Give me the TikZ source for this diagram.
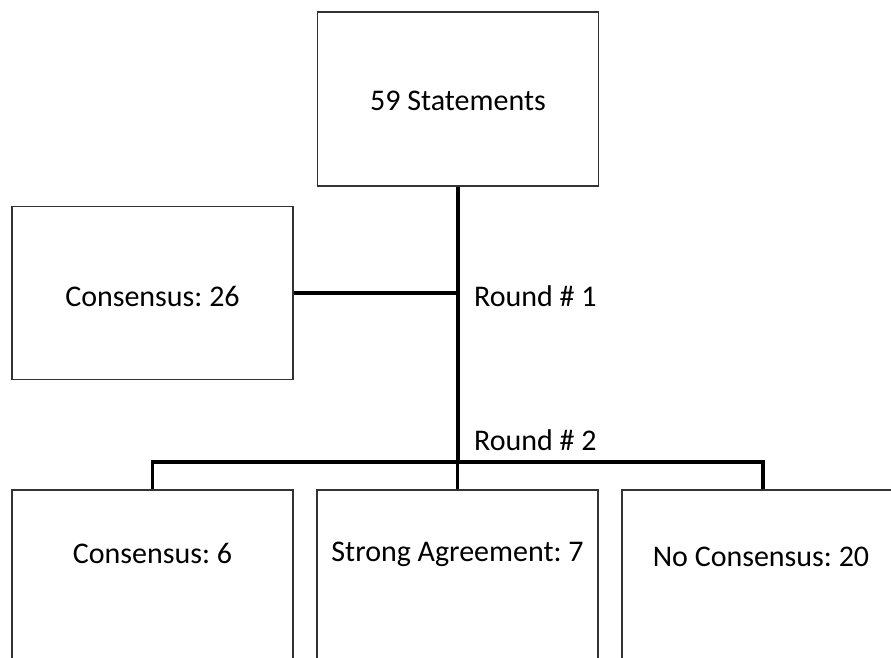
\documentclass[tikz,border=0pt]{standalone}
\usepackage{fontspec}
\setmainfont{Carlito}
\frenchspacing
\begin{document}
\begin{tikzpicture}[x=1pt,y=-1pt,
  box/.style={draw=black!80,line width=1.3pt,rectangle,inner sep=0pt,fill=white},
  conn/.style={draw=black,line width=3.2pt},
  lbl/.style={font=\fontsize{30}{36}\selectfont,inner sep=0pt}]
\clip (0,0) rectangle (891,658);
\fill[white] (0,0) rectangle (891,658);
\node[box,minimum width=281pt,minimum height=174pt] (top) at (458,99) {};
\node[lbl] (toptxt) at (458,101) {59 Statements};
\node[box,minimum width=281pt,minimum height=173pt] (left) at (152.5,293) {};
\node[lbl] (lefttxt) at (152.5,296) {Consensus: 26};
\node[box,minimum width=281pt,minimum height=180pt] (b1) at (152.5,580) {};
\node[box,minimum width=281pt,minimum height=180pt] (b2) at (457.5,580) {};
\node[box,minimum width=282pt,minimum height=180pt] (b3) at (763,580) {};
\node[lbl] (t1) at (152.5,553) {Consensus: 6};
\node[lbl] (t2) at (457.5,554) {Strong Agreement: 7};
\node[lbl] (t3) at (761,557) {No Consensus: 20};
\coordinate (j1) at (458,293);
\coordinate (j2) at (458,462);
\draw[conn] (top.south) -- (j2);
\draw[conn] (left.east) -- (j1);
\draw[conn,line cap=rect] (j2 -| b1.north) -- (j2 -| b3.north);
\draw[conn] (j2 -| b1.north) -- (b1.north);
\draw[conn] (j2 -| b2.north) -- (b2.north);
\draw[conn] (j2 -| b3.north) -- (b3.north);
\node[lbl,anchor=west] (r1) at (474,296) {Round \# 1};
\node[lbl,anchor=west] (r2) at (474,440) {Round \# 2};
\end{tikzpicture}
\end{document}
